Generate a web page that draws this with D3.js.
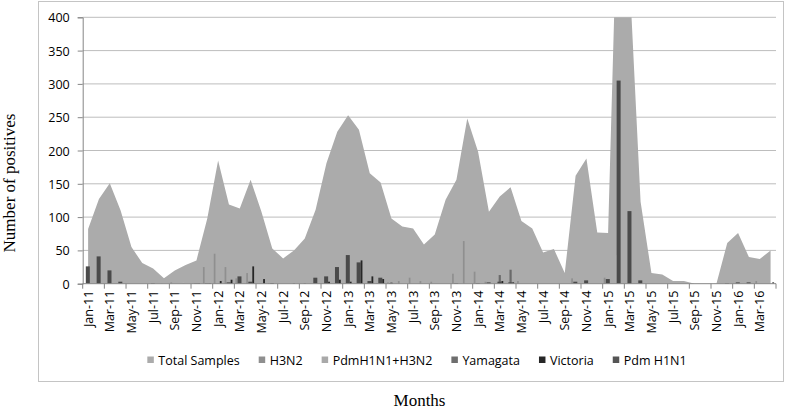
<!DOCTYPE html>
<html>
<head>
<meta charset="utf-8">
<script src="https://cdn.jsdelivr.net/npm/d3@7"></script>
<style>
  body { margin: 0; background: #fff; }
  .tick-label { font-family: "Open Sans", sans-serif; font-size: 12.5px; fill: #000; }
  .title { font-family: "Liberation Serif", "Times New Roman", serif; fill: #000; }
</style>
</head>
<body>
<div id="chart"></div>
<script>
// Months (categories)
const months = [
  "Jan-11","Feb-11","Mar-11","Apr-11","May-11","Jun-11","Jul-11","Aug-11","Sep-11","Oct-11","Nov-11","Dec-11",
  "Jan-12","Feb-12","Mar-12","Apr-12","May-12","Jun-12","Jul-12","Aug-12","Sep-12","Oct-12","Nov-12","Dec-12",
  "Jan-13","Feb-13","Mar-13","Apr-13","May-13","Jun-13","Jul-13","Aug-13","Sep-13","Oct-13","Nov-13","Dec-13",
  "Jan-14","Feb-14","Mar-14","Apr-14","May-14","Jun-14","Jul-14","Aug-14","Sep-14","Oct-14","Nov-14","Dec-14",
  "Jan-15","Feb-15","Mar-15","Apr-15","May-15","Jun-15","Jul-15","Aug-15","Sep-15","Oct-15","Nov-15","Dec-15",
  "Jan-16","Feb-16","Mar-16","Apr-16"
];

// Total samples (area)
const totalSamples = [
  82,127,151,110,55,31,23,8,20,28,35,98,
  185,119,113,156,108,53,38,50,68,111,181,228,
  253,231,166,152,98,86,83,59,74,126,156,248,
  198,108,131,145,94,83,47,52,16,162,188,77,
  76,660,455,123,16,14,4,4,0,0,0,61,
  76,40,37,50
];

// Positives by type (bars)
const h3n2 = [
  0,0,0,0,0,0,0,0,2,0,1,25,
  45,25,8,16,0,1,0,0,0,0,0,0,
  0,0,0,1,2,4,9,4,3,0,15,64,
  18,3,0,0,4,0,0,0,0,8,0,0,
  9,0,0,0,0,0,0,0,0,0,0,0,
  0,0,4,0
];
const pdmH3n2 = [
  0,0,0,0,0,0,0,1,0,2,0,0,
  0,0,0,0,0,0,0,0,0,0,0,0,
  0,0,0,0,0,0,0,0,0,0,0,0,
  0,0,0,0,0,0,0,0,0,0,0,0,
  0,43,0,0,0,0,0,0,0,0,0,0,
  0,0,0,0
];
const yamagata = [
  0,0,0,0,0,0,0,0,0,0,0,0,
  0,0,0,0,0,1,0,1,1,0,0,0,
  0,0,0,0,2,0,0,0,0,0,0,0,
  0,0,13,21,0,0,0,0,0,0,0,0,
  0,0,0,0,0,0,0,0,0,0,0,0,
  0,0,0,0
];
const victoria = [
  0,0,0,0,0,0,0,0,0,0,1,1,
  4,6,0,26,7,0,0,0,0,0,3,6,
  3,35,11,7,0,0,0,0,0,0,0,0,
  0,0,4,2,0,0,0,0,0,0,0,0,
  0,0,0,0,0,0,0,0,0,0,0,0,
  0,0,0,2
];
const pdmH1n1 = [
  26,41,20,3,0,0,1,0,0,0,1,1,
  0,2,11,3,0,1,0,0,0,9,11,25,
  43,32,4,9,1,0,0,0,0,0,1,0,
  1,2,3,2,0,0,0,0,0,3,5,0,
  7,305,109,5,0,0,0,0,0,0,0,1,
  2,2,0,0
];

const seriesNames = ["Total Samples","H3N2","PdmH1N1+H3N2","Yamagata","Victoria","Pdm H1N1"];
const yTicks = [0,50,100,150,200,250,300,350,400];

// styles for bar series (offset from category centre, width)
const barSeries = [
  {name: "H3N2",         values: h3n2,     color: "#8f8f8f", dx: -3.5, w: 1.7},
  {name: "PdmH1N1+H3N2", values: pdmH3n2,  color: "#b4b4b4", dx: -2.2, w: 1.7},
  {name: "Yamagata",     values: yamagata, color: "#6a6a6a", dx: 0,    w: 2.2},
  {name: "Pdm H1N1",     values: pdmH1n1,  color: "#4a4a4a", dx: -0.3, w: 4},
  {name: "Victoria",     values: victoria, color: "#262626", dx: 2.6,  w: 1.8}
];
const colors = {
  "Total Samples": "#ababab", "H3N2": "#8f8f8f", "PdmH1N1+H3N2": "#a9a9a9",
  "Yamagata": "#6e6e6e", "Victoria": "#262626", "Pdm H1N1": "#555555"
};

const W = 793, H = 411;
const plot = {left: 82.7, right: 776, top: 17.3, bottom: 283.7};

const svg = d3.select("#chart").append("svg")
  .attr("width", W).attr("height", H);

// chart border
svg.append("rect")
  .attr("x", 38.5).attr("y", 1.5)
  .attr("width", 745).attr("height", 380)
  .attr("fill", "none").attr("stroke", "#c4c4c4");

const x = d3.scaleBand().domain(months).range([plot.left, plot.right]).padding(0);
const y = d3.scaleLinear().domain([0, 400]).range([plot.bottom, plot.top]);
const bw = x.bandwidth();

// gridlines
svg.append("g").selectAll("line")
  .data(yTicks.filter(d => d > 0))
  .join("line")
  .attr("x1", plot.left).attr("x2", plot.right)
  .attr("y1", d => y(d)).attr("y2", d => y(d))
  .attr("stroke", "#bdbdbd").attr("stroke-width", 1);

svg.append("clipPath").attr("id", "clip")
  .append("rect")
  .attr("x", plot.left).attr("y", plot.top)
  .attr("width", plot.right - plot.left).attr("height", plot.bottom - plot.top);

const g = svg.append("g").attr("clip-path", "url(#clip)");

// total samples area
const area = d3.area()
  .x((d, i) => x(months[i]) + bw / 2)
  .y0(y(0))
  .y1(d => y(d));

g.append("path")
  .datum(totalSamples)
  .attr("d", area)
  .attr("fill", colors["Total Samples"]);

// bars
barSeries.forEach(s => {
  g.append("g").selectAll("rect")
    .data(s.values.map((v, i) => ({m: months[i], v})).filter(d => d.v > 0))
    .join("rect")
    .attr("x", d => x(d.m) + bw / 2 + s.dx - s.w / 2)
    .attr("width", s.w)
    .attr("y", d => y(d.v))
    .attr("height", d => y(0) - y(d.v))
    .attr("fill", s.color);
});

// y axis
const yAxis = svg.append("g")
  .attr("transform", `translate(${plot.left},0)`)
  .call(d3.axisLeft(y).tickValues(yTicks).tickSize(5).tickPadding(8));
yAxis.select(".domain").attr("stroke", "#868686");
yAxis.selectAll(".tick line").attr("stroke", "#868686");
yAxis.selectAll(".tick text").attr("class", "tick-label").attr("dy", "0.36em");

// x axis: ticks on category boundaries every two months
const xAxis = svg.append("g").attr("transform", `translate(0,${plot.bottom})`);
xAxis.append("line")
  .attr("x1", plot.left).attr("x2", plot.right)
  .attr("stroke", "#868686");
const boundaries = months.filter((m, i) => i % 2 === 0).map(m => x(m)).concat([plot.right]);
xAxis.selectAll(".xt").data(boundaries).join("line")
  .attr("class", "xt")
  .attr("x1", d => d).attr("x2", d => d)
  .attr("y1", 0).attr("y2", 5)
  .attr("stroke", "#868686");
xAxis.selectAll(".xl").data(months.filter((m, i) => i % 2 === 0)).join("text")
  .attr("class", "tick-label")
  .attr("text-anchor", "end")
  .attr("transform", d => `translate(${x(d) + bw / 2 + 4.5},${7}) rotate(-90)`)
  .text(d => d);

// axis titles
svg.append("text")
  .attr("class", "title")
  .attr("font-size", 17)
  .attr("text-anchor", "middle")
  .attr("transform", "translate(15,183) rotate(-90)")
  .text("Number of positives");

svg.append("text")
  .attr("class", "title")
  .attr("font-size", 17)
  .attr("text-anchor", "middle")
  .attr("x", 419.5).attr("y", 405.5)
  .text("Months");

// legend
const legend = svg.append("g");
let lx = 0;
seriesNames.forEach(name => {
  const item = legend.append("g").attr("transform", `translate(${lx},0)`);
  item.append("rect")
    .attr("x", 0).attr("y", -3.5)
    .attr("width", 6.5).attr("height", 6.5)
    .attr("fill", colors[name]);
  const t = item.append("text")
    .attr("class", "tick-label")
    .attr("x", 11).attr("y", 4.5)
    .text(name);
  lx += 11 + t.node().getComputedTextLength() + 19;
});
const legendWidth = lx - 19;
legend.attr("transform", `translate(${417 - legendWidth / 2},360)`);
</script>
</body>
</html>
